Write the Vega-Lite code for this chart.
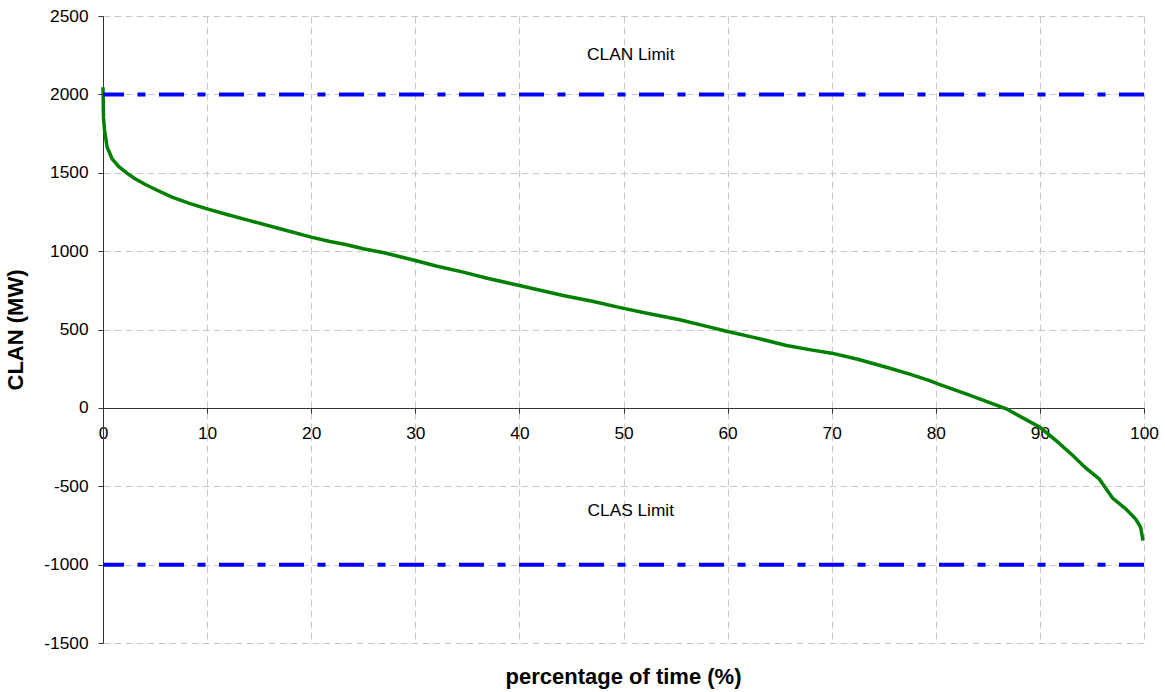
{
  "$schema": "https://vega.github.io/schema/vega-lite/v6.json",
  "autosize": "none",
  "width": 1041,
  "height": 627,
  "padding": {"left": 103, "top": 16, "right": 21, "bottom": 49},
  "background": "white",
  "config": {
    "view": {"stroke": null},
    "font": "Liberation Sans",
    "axis": {
      "labelFont": "Liberation Sans",
      "labelFontSize": 17.3,
      "labelColor": "#000000",
      "titleFont": "Liberation Sans",
      "titleFontSize": 22,
      "titleFontWeight": "bold",
      "titleColor": "#000000",
      "domainColor": "#333333",
      "tickColor": "#333333",
      "tickSize": 5,
      "gridColor": "#c8c8c8",
      "gridDash": [7, 4],
      "gridWidth": 1
    }
  },
  "title": {
    "text": "percentage of time (%)",
    "orient": "bottom",
    "font": "Liberation Sans",
    "fontSize": 22,
    "fontWeight": "bold",
    "color": "#000000",
    "offset": 16,
    "anchor": "middle"
  },
  "datasets": {
    "curve": [
      {"pct": 0, "clan": 2045},
      {"pct": 0.05, "clan": 1850},
      {"pct": 0.15, "clan": 1770},
      {"pct": 0.4, "clan": 1663},
      {"pct": 0.87, "clan": 1589},
      {"pct": 1.5, "clan": 1540},
      {"pct": 2.3, "clan": 1498},
      {"pct": 3, "clan": 1465},
      {"pct": 4.07, "clan": 1425},
      {"pct": 5.3, "clan": 1385},
      {"pct": 6.63, "clan": 1344},
      {"pct": 8.3, "clan": 1305},
      {"pct": 10, "clan": 1270},
      {"pct": 12, "clan": 1232},
      {"pct": 14, "clan": 1196},
      {"pct": 17, "clan": 1143},
      {"pct": 20, "clan": 1089},
      {"pct": 21.8, "clan": 1061},
      {"pct": 23.3, "clan": 1042},
      {"pct": 25, "clan": 1015},
      {"pct": 27, "clan": 990},
      {"pct": 30, "clan": 940},
      {"pct": 32, "clan": 905},
      {"pct": 34.6, "clan": 866},
      {"pct": 37, "clan": 825},
      {"pct": 40, "clan": 781},
      {"pct": 42, "clan": 750},
      {"pct": 44.2, "clan": 717},
      {"pct": 47, "clan": 680},
      {"pct": 50, "clan": 635},
      {"pct": 52.5, "clan": 600},
      {"pct": 55.4, "clan": 562},
      {"pct": 58, "clan": 520},
      {"pct": 60, "clan": 487},
      {"pct": 62.5, "clan": 450},
      {"pct": 65.65, "clan": 398},
      {"pct": 68, "clan": 370},
      {"pct": 70, "clan": 349},
      {"pct": 72.5, "clan": 310},
      {"pct": 75.25, "clan": 259},
      {"pct": 77.5, "clan": 215},
      {"pct": 79.4, "clan": 174},
      {"pct": 80.4, "clan": 149},
      {"pct": 82.9, "clan": 89},
      {"pct": 84.85, "clan": 42},
      {"pct": 86.77, "clan": -6},
      {"pct": 88.36, "clan": -64},
      {"pct": 90, "clan": -124},
      {"pct": 91.56, "clan": -209},
      {"pct": 93.16, "clan": -304},
      {"pct": 94.4, "clan": -383},
      {"pct": 95.7, "clan": -453},
      {"pct": 96.98, "clan": -575},
      {"pct": 98.26, "clan": -645},
      {"pct": 99.2, "clan": -709},
      {"pct": 99.68, "clan": -762},
      {"pct": 99.9, "clan": -847}
    ],
    "limits": [
      {"limit": 2000},
      {"limit": -1000}
    ],
    "labels": [
      {"pct": 50.7, "clan": 2250, "label": "CLAN Limit"},
      {"pct": 50.7, "clan": -660, "label": "CLAS Limit"}
    ]
  },
  "layer": [
    {
      "data": {"name": "curve"},
      "mark": {"type": "line", "color": "#008000", "strokeWidth": 3.5, "interpolate": "linear"},
      "encoding": {
        "x": {
          "field": "pct",
          "type": "quantitative",
          "scale": {"domain": [0, 100], "nice": false, "zero": false},
          "axis": {
            "values": [0, 10, 20, 30, 40, 50, 60, 70, 80, 90, 100],
            "labelExpr": "datum.value + ''",
            "offset": -235,
            "title": null,
            "labelPadding": 11,
            "grid": true,
            "labelFlush": false
          }
        },
        "y": {
          "field": "clan",
          "type": "quantitative",
          "scale": {"domain": [-1500, 2500], "nice": false, "zero": false},
          "axis": {
            "values": [-1500, -1000, -500, 0, 500, 1000, 1500, 2000, 2500],
            "labelExpr": "datum.value + ''",
            "title": "CLAN (MW)",
            "labelPadding": 10,
            "titlePadding": 16,
            "grid": true
          }
        }
      }
    },
    {
      "data": {"name": "limits"},
      "mark": {"type": "rule", "color": "#0000ff", "strokeWidth": 4, "strokeDash": [25, 13.5, 8, 13.5]},
      "encoding": {
        "y": {"field": "limit", "type": "quantitative"}
      }
    },
    {
      "data": {"name": "labels"},
      "mark": {"type": "text", "font": "Liberation Sans", "fontSize": 17.3, "color": "#000000", "align": "center", "baseline": "middle"},
      "encoding": {
        "x": {"field": "pct", "type": "quantitative"},
        "y": {"field": "clan", "type": "quantitative"},
        "text": {"field": "label", "type": "nominal"}
      }
    }
  ]
}
